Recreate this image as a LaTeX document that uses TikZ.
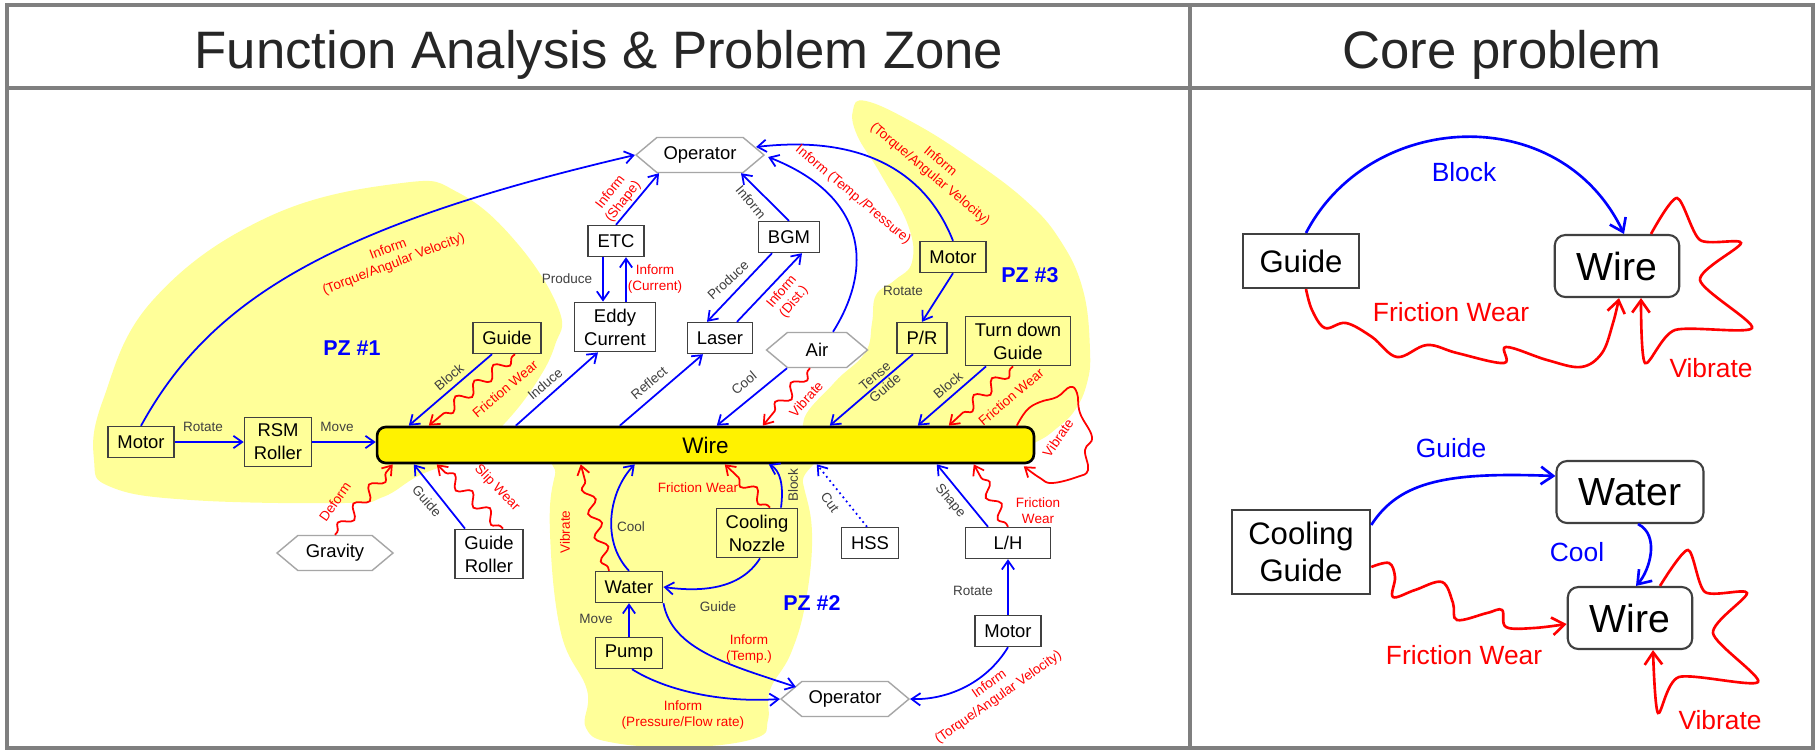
\documentclass[tikz,border=0pt]{standalone}
\usepackage{fontspec}
\setmainfont{Liberation Sans}
\usepackage{xcolor}
\usepackage{tikz}
\usetikzlibrary{positioning,arrows.meta,decorations.pathmorphing,shapes.symbols,backgrounds}

\definecolor{pzyellow}{HTML}{FFFF99}
\definecolor{fablue}{HTML}{0000FF}
\definecolor{fared}{HTML}{FF0000}
\definecolor{lblgray}{HTML}{404040}
\definecolor{boxgray}{HTML}{404040}
\definecolor{hexgray}{HTML}{A6A6A6}
\definecolor{framegray}{HTML}{7F7F7F}

\newcommand{\boxfont}{\fontsize{10.5}{13}\selectfont}
\newcommand{\lblfont}{\fontsize{7.7}{9}\selectfont}
\newcommand{\titlefont}{\fontsize{30}{36}\selectfont}
\newcommand{\pzfont}{\bfseries\fontsize{12.2}{14}\selectfont}
\newcommand{\cpboxfont}{\fontsize{17.7}{21}\selectfont}
\newcommand{\cpwirefont}{\fontsize{22.3}{26}\selectfont}
\newcommand{\cplblfont}{\fontsize{15}{18}\selectfont}

\begin{document}
\begin{tikzpicture}[x=0.02cm,y=-0.02cm]
\tikzset{fbx/.style={draw=boxgray,line width=0.8pt,inner xsep=0.19cm,inner ysep=0.13cm,minimum height=0.62cm,align=center,font=\boxfont},
hexa/.style={signal,signal to=west and east,signal pointer angle=80,draw=hexgray,fill=white,line width=0.8pt,minimum height=0.7cm,inner sep=0pt,font=\boxfont},
wirebar/.style={draw=black,line width=1.5pt,fill=yellow,rounded corners=5pt,minimum width=13.14cm,minimum height=0.72cm,font=\fontsize{12.8}{15}\selectfont},
fn/.style={fablue,line width=1pt,-{Straight Barb[length=5pt,width=7pt]}},
hm/.style={fared,line width=1pt,-{Straight Barb[length=5pt,width=7pt]},decorate,decoration={snake,amplitude=3.2pt,segment length=14pt,pre length=2pt,post length=6pt}},
lbl/.style={text=lblgray,font=\lblfont,inner sep=1pt,align=center},
rlbl/.style={text=fared,font=\lblfont,inner sep=1pt,align=center},
pz/.style={text=fablue,font=\pzfont},
cbox/.style={draw=boxgray,line width=1.2pt,fill=white,inner xsep=0.33cm,inner ysep=0.25cm,minimum height=1.08cm,align=center,font=\cpboxfont},
rbox/.style={draw=boxgray,line width=1.2pt,fill=white,rounded corners=6pt,inner xsep=0.44cm,minimum height=1.24cm,font=\cpwirefont},
fnb/.style={fablue,line width=1.5pt,-{Straight Barb[length=7pt,width=10pt]}},
hmb/.style={fared,line width=1.5pt,-{Straight Barb[length=7pt,width=10pt]}},
blc/.style={text=fablue,font=\cplblfont},
rdc/.style={text=fared,font=\cplblfont}}
\useasboundingbox (0,0) rectangle (1819,751);

% frame and titles
\draw[framegray,line width=2.2pt] (7,5) rectangle (1813,748);
\draw[framegray,line width=2.2pt] (7,88) -- (1813,88);
\draw[framegray,line width=2.2pt] (1190,5) -- (1190,748);
\node[font=\titlefont,text=black!85,anchor=base] (ttlL) at (599,68) {Function Analysis \& Problem Zone};
\node[font=\titlefont,text=black!85,anchor=base] (ttlR) at (1502,68) {Core problem};

% function analysis
\node[fbx] (motorL) at (141,442) {Motor};
\node[fbx] (rsm) at (278,442) {RSM\\Roller};
\node[fbx] (guideA) at (507,338) {Guide};
\node[fbx] (etc) at (616,241) {ETC};
\node[fbx] (eddy) at (615,327) {Eddy\\Current};
\node[fbx] (bgm) at (789,237) {BGM};
\node[fbx] (laser) at (720,338) {Laser};
\node[fbx] (motorR) at (953,257) {Motor};
\node[fbx] (pr) at (922,338) {P/R};
\node[fbx] (tdg) at (1018,341) {Turn down\\Guide};
\node[fbx] (groller) at (489,554) {Guide\\Roller};
\node[fbx] (water) at (629,587) {Water};
\node[fbx] (pump) at (629,653) {Pump};
\node[fbx] (nozzle) at (757,533) {Cooling\\Nozzle};
\node[fbx] (hss) at (870,543) {HSS};
\node[fbx,minimum width=1.7cm] (lh) at (1008,543) {L/H};
\node[fbx] (motorB) at (1008,631) {Motor};
\node[hexa,minimum width=2.56cm] (operT) at (700,155) {Operator};
\node[hexa,minimum width=2.02cm] (air) at (817,350) {Air};
\node[hexa,minimum width=2.32cm] (gravity) at (335,553) {Gravity};
\node[hexa,minimum width=2.56cm] (operB) at (845,699) {Operator};
\node[wirebar] (wire) at (705.5,445) {Wire};

\node[pz] (pz1) at (352,348) {PZ \#1};
\node[pz] (pz2) at (812,603) {PZ \#2};
\node[pz] (pz3) at (1030,275) {PZ \#3};

\begin{scope}[on background layer]
\fill[white] (0,0) rectangle (1819,751);
\fill[pzyellow] plot[smooth cycle,tension=0.7] coordinates {(402,183) (459,193) (517,243) (559,310) (555,345) (536,383) (505,423) (470,455) (420,475) (383,497) (344,503) (191,500) (111,487) (94,460) (103,400) (153,300) (268,217)};
\fill[pzyellow] plot[smooth cycle,tension=0.7] coordinates {(570,450) (795,450) (803,483) (812,533) (806,600) (791,653) (770,690) (768,720) (756,738) (691,747) (615,743) (586,728) (587,690) (561,633) (550,533) (555,475)};
\fill[pzyellow] plot[smooth cycle,tension=0.7] coordinates {(866,101) (914,123) (968,157) (1025,200) (1060,240) (1083,290) (1090,350) (1087,383) (1075,410) (1057,428) (1036,442) (1000,455) (830,455) (803,424) (834,383) (865,353) (872,323) (876,295) (895,280) (912,262) (908,225) (880,173) (857,135) (853,110)};
\end{scope}

% top side of the wire
\draw[fn] (motorL) -- (rsm);
\draw[fn] (rsm.east) -- (rsm.east -| wire.west);
\draw[fn] (motorL.north) .. controls (210,300) and (330,226) .. (operT.west);
\draw[fn] ([shift={(-15,0)}]guideA.south) -- ([shift={(33,0)}]wire.north west);
\draw[hm] ([shift={(8,0)}]guideA.south) -- ([shift={(53,0)}]wire.north west);
\draw[fn] ([shift={(140,0)}]wire.north west) -- ([shift={(-17,0)}]eddy.south);
\draw[fn] ([shift={(244,0)}]wire.north west) -- ([shift={(-17,0)}]laser.south);
\draw[fn] ([shift={(-30,0)}]air.south) -- ([shift={(341,0)}]wire.north west);
\draw[hm] ([shift={(-7,0)}]air.south) -- ([shift={(387,0)}]wire.north west);
\draw[fn] ([shift={(-9,0)}]pr.south) -- ([shift={(454,0)}]wire.north west);
\draw[fn] ([shift={(-32,0)}]tdg.south) -- ([shift={(542,0)}]wire.north west);
\draw[hm] ([shift={(-5,0)}]tdg.south) -- ([shift={(573,0)}]wire.north west);
\draw[fn] ([shift={(-13,0)}]etc.south) -- ([shift={(-12,0)}]eddy.north);
\draw[fn] ([shift={(11,0)}]eddy.north) -- ([shift={(10,0)}]etc.south);
\draw[fn] (etc.north) -- ([shift={(-41,0)}]operT.south);
\draw[fn] (bgm.north) -- ([shift={(41,0)}]operT.south);
\draw[fn] ([shift={(-17,0)}]bgm.south) -- ([shift={(-13,0)}]laser.north);
\draw[fn] ([shift={(17,0)}]laser.north) -- ([shift={(13,0)}]bgm.south);
\draw[fn] ([shift={(16,0)}]air.north) .. controls (875,265) and (865,195) .. ([shift={(3,2)}]operT.east);
\draw[fn] (motorR.north) .. controls (925,170) and (860,135) .. ([shift={(-9,-8)}]operT.east);
\draw[fn] (motorR.south) -- (pr.north);
\draw[fared,line width=1pt,-{Straight Barb[length=5pt,width=7pt]}] plot[smooth,tension=0.7] coordinates {([shift={(641,0)}]wire.north west) (1027,410) (1040,402) (1057,397) (1070,387) (1077,393) (1080,413) (1092,437) (1085,450) (1088,470) (1077,477) (1052,483) (1040,478) ([shift={(648,2)}]wire.south west)};

% bottom side of the wire
\draw[hm] (gravity.north) -- ([shift={(17,0)}]wire.south west);
\draw[fn] ([shift={(-24,0)}]groller.north) -- ([shift={(38,0)}]wire.south west);
\draw[hm] ([shift={(14,0)}]groller.north) -- ([shift={(61,0)}]wire.south west);
\draw[hm] ([shift={(-20,0)}]water.north) -- ([shift={(205,0)}]wire.south west);
\draw[fn] (water.north) .. controls (600,540) and (610,490) .. ([shift={(259,0)}]wire.south west);
\draw[hm] ([shift={(13,0)}]nozzle.north) -- ([shift={(349,0)}]wire.south west);
\draw[fn] ([shift={(24,0)}]nozzle.north) .. controls (784,485) and (780,470) .. ([shift={(393,0)}]wire.south west);
\draw[fn,dotted] ([shift={(-3,0)}]hss.north) -- ([shift={(441,0)}]wire.south west);
\draw[fn] ([shift={(-20,0)}]lh.north) -- ([shift={(561,0)}]wire.south west);
\draw[hm] (lh.north) -- ([shift={(598,0)}]wire.south west);
\draw[fn] ([shift={(3,0)}]nozzle.south) .. controls (740,590) and (700,592) .. (water.east);
\draw[fn] (pump) -- (water);
\draw[fn] (water.south east) .. controls (672,650) and (730,665) .. ([shift={(16,-12)}]operB.west);
\draw[fn] ([shift={(3,0)}]pump.south) .. controls (665,690) and (720,703) .. (operB.west);
\draw[fn] (motorB.south) .. controls (985,685) and (945,700) .. (operB.east);
\draw[fn] (motorB) -- (lh);

% labels
\node[lbl] (l1) at (203,427) {Rotate};
\node[lbl] (l2) at (337,427) {Move};
\node[rlbl,rotate=21] (l3) at (391,257) {Inform\\(Torque/Angular Velocity)};
\node[lbl,rotate=40] (l4) at (449,377) {Block};
\node[rlbl,rotate=40] (l5) at (505,389) {Friction Wear};
\node[lbl,rotate=40] (l6) at (545,384) {Induce};
\node[lbl] (l7) at (567,279) {Produce};
\node[rlbl] (l8) at (655,279) {Inform\\(Current)};
\node[rlbl,rotate=52] (l9) at (617,197) {Inform\\(Shape)};
\node[lbl,rotate=-50] (l10) at (751,202) {Inform};
\node[lbl,rotate=43] (l11) at (728,280) {Produce};
\node[rlbl,rotate=50] (l12) at (788,297) {Inform\\(Dist.)};
\node[lbl,rotate=40] (l13) at (649,383) {Reflect};
\node[lbl,rotate=40] (l14) at (744,383) {Cool};
\node[rlbl,rotate=48] (l15) at (806,399) {Vibrate};
\node[rlbl,rotate=-40] (l16) at (853,195) {Inform (Temp./Pressure)};
\node[rlbl,rotate=-40] (l17) at (935,168) {Inform\\(Torque/Angular Velocity)};
\node[lbl] (l18) at (903,291) {Rotate};
\node[lbl,rotate=40] (l19) at (880,382) {Tense\\Guide};
\node[lbl,rotate=40] (l20) at (948,385) {Block};
\node[rlbl,rotate=40] (l21) at (1011,397) {Friction Wear};
\node[rlbl,rotate=55] (l22) at (1058,438) {Vibrate};
\node[rlbl,rotate=55] (l23) at (335,502) {Deform};
\node[lbl,rotate=-48] (l24) at (427,501) {Guide};
\node[rlbl,rotate=-46] (l25) at (497,488) {Slip Wear};
\node[rlbl,rotate=90] (l26) at (565,532) {Vibrate};
\node[lbl] (l27) at (631,527) {Cool};
\node[rlbl] (l28) at (698,488) {Friction Wear};
\node[lbl,rotate=90] (l29) at (793,485) {Block};
\node[lbl,rotate=-55] (l30) at (830,502) {Cut};
\node[lbl,rotate=-50] (l31) at (950,501) {Shape};
\node[rlbl] (l32) at (1038,511) {Friction\\Wear};
\node[lbl] (l33) at (718,607) {Guide};
\node[lbl] (l34) at (596,619) {Move};
\node[rlbl] (l35) at (749,649) {Inform\\(Temp.)};
\node[rlbl] (l36) at (683,715) {Inform\\(Pressure/Flow rate)};
\node[lbl] (l37) at (973,591) {Rotate};
\node[rlbl,rotate=35] (l38) at (994,691) {Inform\\(Torque/Angular Velocity)};

% core problem
\node[cbox] (guideC) at (1301,261) {Guide};
\node[rbox] (wireC) at (1617,266) {Wire};
\node[cbox] (coolg) at (1301,552) {Cooling\\Guide};
\node[rbox] (waterC) at (1630,492) {Water};
\node[rbox] (wireD) at (1630,618) {Wire};

\draw[fnb] ([shift={(5,0)}]guideC.north) .. controls (1370,110) and (1560,100) .. ([shift={(7,0)}]wireC.north);
\draw[hmb] plot[smooth,tension=0.6] coordinates {([shift={(5,0)}]guideC.south) (1312,310) (1325,328) (1346,323) (1372,337) (1397,357) (1427,345) (1457,353) (1504,363) (1506,347) (1547,360) (1581,367) (1602,353) (1613,323) ([shift={(2,0)}]wireC.south)};
\draw[hmb] plot[smooth,tension=0.45] coordinates {([shift={(34,0)}]wireC.north) (1677,198) (1700,240) (1741,243) (1700,280) (1752,328) (1675,330) (1645,363) ([shift={(24,0)}]wireC.south)};
\draw[fnb] ([shift={(0,-27)}]coolg.east) .. controls (1400,480) and (1450,472) .. ([shift={(0,-16)}]waterC.west);
\draw[fnb] ([shift={(8,0)}]waterC.south) .. controls (1660,535) and (1650,570) .. ([shift={(6,0)}]wireD.north);
\draw[hmb] plot[smooth,tension=0.6] coordinates {([shift={(0,15)}]coolg.east) (1389,563) (1395,577) (1393,597) (1415,590) (1442,582) (1453,603) (1457,620) (1487,613) (1502,610) (1506,627) (1534,628) ([shift={(0,6)}]wireD.west)};
\draw[hmb] plot[smooth,tension=0.45] coordinates {([shift={(30,0)}]wireD.north) (1688,550) (1705,592) (1747,593) (1713,633) (1758,682) (1679,677) (1658,713) ([shift={(23,0)}]wireD.south)};

\node[blc] (c1) at (1464,172) {Block};
\node[rdc] (c2) at (1451,312) {Friction Wear};
\node[rdc] (c3) at (1711,368) {Vibrate};
\node[blc] (c4) at (1451,448) {Guide};
\node[blc] (c5) at (1577,552) {Cool};
\node[rdc] (c6) at (1464,655) {Friction Wear};
\node[rdc] (c7) at (1720,720) {Vibrate};
\end{tikzpicture}
\end{document}
